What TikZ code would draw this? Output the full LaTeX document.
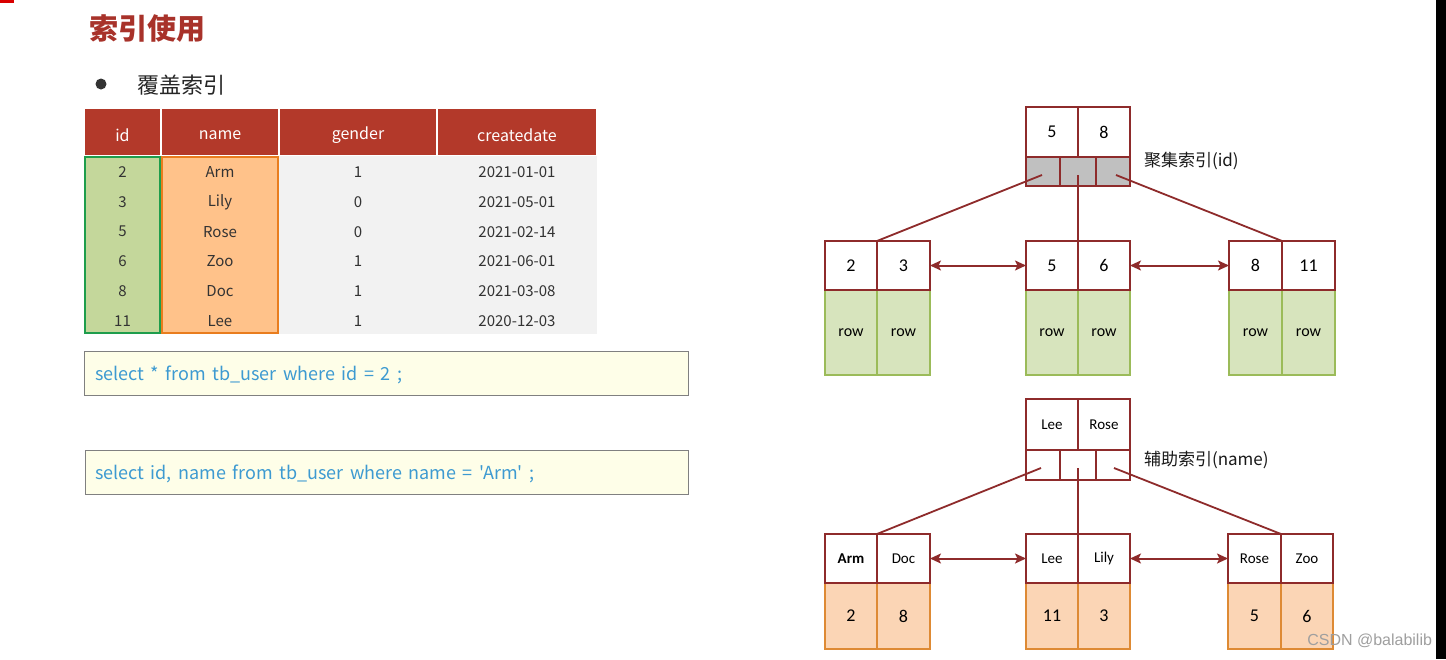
\documentclass[tikz,border=0pt]{standalone}
\usepackage{fontspec}
\setmainfont{Carlito}
\newfontfamily\cjk{Noto Sans CJK SC}
\newfontfamily\wmfont{Liberation Sans}
\usetikzlibrary{arrows.meta}
\definecolor{titlered}{HTML}{A8322A}
\definecolor{hdrred}{HTML}{B3392A}
\definecolor{treered}{HTML}{8E2B2B}
\definecolor{idgreen}{HTML}{C4D79B}
\definecolor{idgreenline}{HTML}{1E9D4C}
\definecolor{nameorange}{HTML}{FFC28A}
\definecolor{nameorangeline}{HTML}{E97D1E}
\definecolor{tblgray}{HTML}{F2F2F2}
\definecolor{rowgreen}{HTML}{D7E4BD}
\definecolor{rowgreenline}{HTML}{9BBB59}
\definecolor{valorange}{HTML}{FBD5B5}
\definecolor{valorangeline}{HTML}{DE8A34}
\definecolor{ptrgray}{HTML}{C0C0C0}
\definecolor{qfill}{HTML}{FEFEE8}
\definecolor{qblue}{HTML}{3D9AD1}
\definecolor{txtgray}{HTML}{333333}
\newcommand\mkcell[7]{%
  \pgfmathsetmacro\mkcw{#4-#2}\pgfmathsetmacro\mkch{#5-#3}%
  \node[#6, minimum width=\mkcw pt, minimum height=\mkch pt] (#1) at ({(#2+#4)/2},{(#3+#5)/2}) {#7};}
\newcommand\qwide{\spaceskip=6.5pt plus 1pt minus 1pt\relax}
\begin{document}
\begin{tikzpicture}[x=1pt,y=-1pt,
  base/.style={inner sep=0pt, outer sep=0pt},
  hdr/.style={base, fill=hdrred, draw=white, line width=1.5pt},
  htext/.style={base, text=white, font=\cjk\fontsize{16}{16}\selectfont},
  tcell/.style={base, text=txtgray, font=\cjk\fontsize{15}{15}\selectfont},
  qbox/.style={base, fill=qfill, draw=gray, line width=0.9pt},
  qtext/.style={base, anchor=west, text width=580pt, align=left, text=qblue, font=\cjk\fontsize{18}{18}\selectfont},
  keycell/.style={base, fill=white, draw=treered, line width=1.8pt, font=\fontsize{18}{18}\selectfont},
  skeycell/.style={keycell, font=\fontsize{15}{15}\selectfont},
  ptrcell/.style={base, fill=ptrgray, draw=treered, line width=1.8pt},
  eptrcell/.style={base, fill=white, draw=treered, line width=1.8pt},
  rowcell/.style={base, fill=rowgreen, draw=rowgreenline, line width=1.6pt, font=\fontsize{16}{16}\selectfont},
  valcell/.style={base, fill=valorange, draw=valorangeline, line width=1.6pt, font=\fontsize{18}{18}\selectfont},
  link/.style={draw=treered, line width=1.8pt},
  dbl/.style={draw=treered, line width=2pt, {Stealth[length=11pt,width=10pt,inset=2.5pt]}-{Stealth[length=11pt,width=10pt,inset=2.5pt]}},
  lab/.style={base, anchor=west, font=\cjk\fontsize{17}{17}\selectfont, text=black!90}
]
\useasboundingbox (0,0) rectangle (1446,659);
\fill[white] (0,0) rectangle (1446,659);
\fill[black] (1436,0) rectangle (1446,659);
\fill[red!85!black] (0,0) rectangle (14,3);

% title
\node[base, anchor=west, font=\cjk\bfseries\fontsize{29}{29}\selectfont, text=titlered] (title) at (89,29) {索引使用};
\node[base, circle, fill=txtgray, minimum size=11pt] (bullet) at (101,84) {};
\node[base, anchor=west, font=\cjk\fontsize{22}{22}\selectfont, text=black!85] (sub) at (137,85) {覆盖索引};

% table
\mkcell{h1}{84}{108}{161}{156}{hdr}{}
\mkcell{h2}{161}{108}{279}{156}{hdr}{}
\mkcell{h3}{279}{108}{437}{156}{hdr}{}
\mkcell{h4}{437}{108}{597}{156}{hdr}{}
\node[htext] (h1t) at (122.5,135) {id};
\node[htext] (h2t) at (220,135) {name};
\node[htext] (h3t) at (358,135) {gender};
\node[htext] (h4t) at (517,135) {createdate};
\mkcell{gray}{279}{156}{597}{334}{base, fill=tblgray}{}
\mkcell{idcol}{85}{157}{160}{333}{base, fill=idgreen, draw=idgreenline, line width=2pt}{}
\mkcell{namecol}{162}{157}{278}{333}{base, fill=nameorange, draw=nameorangeline, line width=2pt}{}
\foreach \i/\a/\b/\c/\d in {1/2/Arm/1/2021-01-01, 2/3/Lily/0/2021-05-01, 3/5/Rose/0/2021-02-14, 4/6/Zoo/1/2021-06-01, 5/8/Doc/1/2021-03-08, 6/11/Lee/1/2020-12-03}{
  \pgfmathsetmacro\yy{157.5+29.67*(\i-0.5)}
  \node[tcell] (r\i-1) at (122.5,\yy) {\a};
  \node[tcell] (r\i-2) at (220,\yy) {\b};
  \node[tcell] (r\i-3) at (358,\yy) {\c};
  \node[tcell] (r\i-4) at (517,\yy) {\d};
}

% queries
\mkcell{q1}{84}{351}{688}{395}{qbox}{}
\node[qtext] (q1t) at (95,375) {\qwide select * from tb\_user where id = 2 ;};
\mkcell{q2}{85}{450}{688}{494}{qbox}{}
\node[qtext] (q2t) at (95,474) {\qwide select id, name from tb\_user where name = 'Arm' ;};

% clustered index tree
\mkcell{t1r1}{825}{290}{877}{375}{rowcell}{row}
\mkcell{t1r2}{877}{290}{930}{375}{rowcell}{row}
\mkcell{t2r1}{1026}{290}{1078}{375}{rowcell}{row}
\mkcell{t2r2}{1078}{290}{1130}{375}{rowcell}{row}
\mkcell{t3r1}{1229}{290}{1282}{375}{rowcell}{row}
\mkcell{t3r2}{1282}{290}{1335}{375}{rowcell}{row}
\mkcell{t1a}{825}{241}{877}{290}{keycell}{2}
\mkcell{t1b}{877}{241}{930}{290}{keycell}{3}
\mkcell{t2a}{1026}{241}{1078}{290}{keycell}{5}
\mkcell{t2b}{1078}{241}{1130}{290}{keycell}{6}
\mkcell{t3a}{1229}{241}{1282}{290}{keycell}{8}
\mkcell{t3b}{1282}{241}{1335}{290}{keycell}{11}
\mkcell{ra}{1026}{107}{1078}{157}{keycell}{5}
\mkcell{rb}{1078}{107}{1130}{157}{keycell}{8}
\mkcell{rp1}{1026}{157}{1060}{186}{ptrcell}{}
\mkcell{rp2}{1060}{157}{1096}{186}{ptrcell}{}
\mkcell{rp3}{1096}{157}{1130}{186}{ptrcell}{}
\coordinate (rp1s) at (1042,175);
\coordinate (rp2s) at (1078,175);
\coordinate (rp3s) at (1116,175);
\draw[link] (rp1s) -- (t1a.north east);
\draw[link] (rp2s) -- (t2a.north east);
\draw[link] (rp3s) -- (t3a.north east);
\draw[dbl] (t1b.east) -- (t2a.west);
\draw[dbl] (t2b.east) -- (t3a.west);
\node[lab] (lab1) at (1144,161) {聚集索引(id)};

% secondary index tree
\mkcell{s1v1}{825}{583}{877}{649}{valcell}{2}
\mkcell{s1v2}{877}{583}{930}{649}{valcell}{8}
\mkcell{s2v1}{1026}{583}{1078}{649}{valcell}{11}
\mkcell{s2v2}{1078}{583}{1130}{649}{valcell}{3}
\mkcell{s3v1}{1228}{583}{1281}{649}{valcell}{5}
\mkcell{s3v2}{1281}{583}{1333}{649}{valcell}{6}
\mkcell{s1a}{825}{534}{877}{583}{skeycell}{\textbf{Arm}}
\mkcell{s1b}{877}{534}{930}{583}{skeycell}{Doc}
\mkcell{s2a}{1026}{534}{1078}{583}{skeycell}{Lee}
\mkcell{s2b}{1078}{534}{1130}{583}{skeycell}{Lily}
\mkcell{s3a}{1228}{534}{1281}{583}{skeycell}{Rose}
\mkcell{s3b}{1281}{534}{1333}{583}{skeycell}{Zoo}
\mkcell{sa}{1026}{399}{1078}{450}{skeycell}{Lee}
\mkcell{sb}{1078}{399}{1130}{450}{skeycell}{Rose}
\mkcell{sp1}{1026}{450}{1060}{480}{eptrcell}{}
\mkcell{sp2}{1060}{450}{1096}{480}{eptrcell}{}
\mkcell{sp3}{1096}{450}{1130}{480}{eptrcell}{}
\coordinate (sp1s) at (1041,468);
\coordinate (sp2s) at (1078,468);
\coordinate (sp3s) at (1114,468);
\draw[link] (sp1s) -- (s1a.north east);
\draw[link] (sp2s) -- (s2a.north east);
\draw[link] (sp3s) -- (s3a.north east);
\draw[dbl] (s1b.east) -- (s2a.west);
\draw[dbl] (s2b.east) -- (s3a.west);
\node[lab] (lab2) at (1144,460) {辅助索引(name)};

\node[base, anchor=east, font=\wmfont\fontsize{16}{16}\selectfont, text=gray!75] (wm) at (1432,641) {CSDN @balabilib};
\end{tikzpicture}
\end{document}
